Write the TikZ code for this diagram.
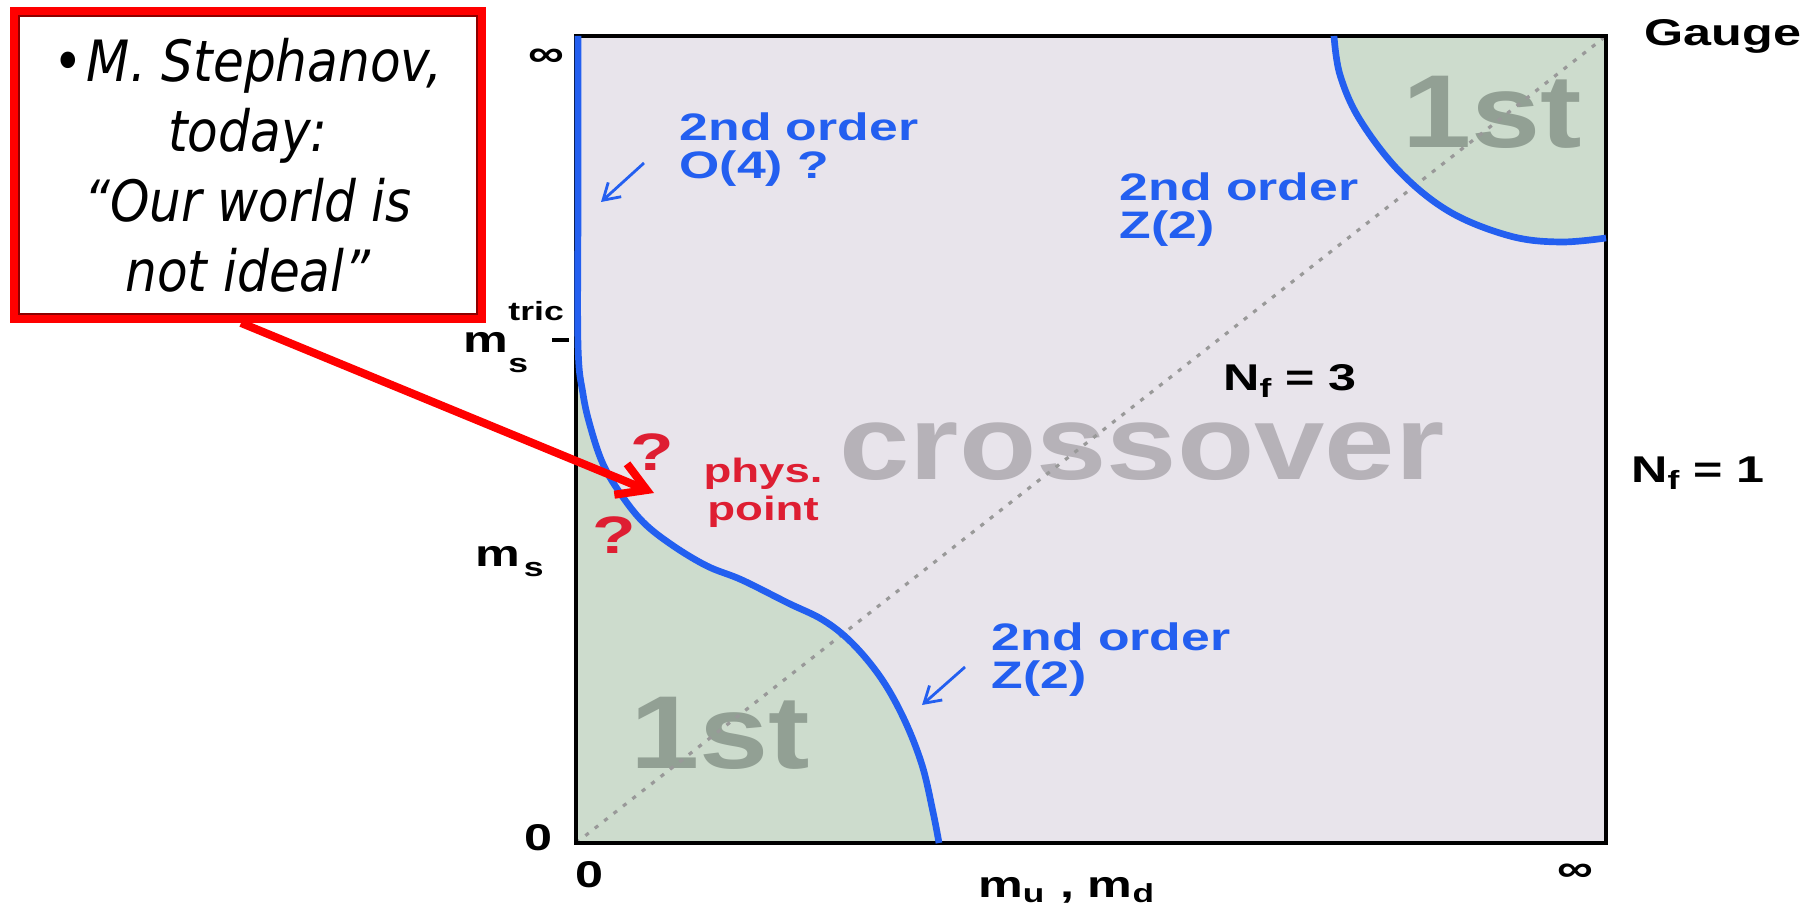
\documentclass[tikz,border=0pt]{standalone}
\usepackage{fontspec}
\setmainfont{Liberation Sans}
\newfontfamily\labelfont[FakeStretch=1.35]{Liberation Sans}
\newfontfamily\bigfont[FakeStretch=1.2]{Liberation Sans}
\newfontfamily\quotefont[FakeStretch=0.88]{DejaVu Sans}
\usetikzlibrary{arrows.meta,positioning,calc}
\definecolor{crossbg}{RGB}{232,228,235}
\definecolor{firstgreen}{RGB}{205,220,205}
\definecolor{firstgray}{RGB}{146,160,148}
\definecolor{crossgray}{RGB}{182,178,184}
\definecolor{orderblue}{RGB}{35,95,240}
\definecolor{physred}{RGB}{222,30,50}

\begin{document}
\begin{tikzpicture}[x=0.1mm, y=-0.1mm,
    quotebox/.style={draw=red, line width=2.8pt, fill=white, minimum width=46.6mm, minimum height=30.6mm, inner sep=0pt, align=center, font=\quotefont\itshape\fontsize{16.2}{19.9}\selectfont},
    orderlabel/.style={text=orderblue, align=left, inner sep=0pt, font=\labelfont\bfseries\fontsize{10.9}{10.8}\selectfont},
    axislabel/.style={inner sep=0pt, font=\labelfont\bfseries\fontsize{10.6}{12}\selectfont},
    phaselabel/.style={text=firstgray, inner sep=0pt, font=\bigfont\bfseries\fontsize{29.5}{29.5}\selectfont},
    physlabel/.style={text=physred, align=center, inner sep=0pt, font=\labelfont\bfseries\fontsize{9.6}{10.8}\selectfont},
    qmark/.style={text=physred, inner sep=0pt, font=\labelfont\bfseries\fontsize{15}{15}\selectfont},
    phaseline/.style={draw=orderblue, line width=1.9pt},
    diagline/.style={draw=black!40, line width=0.9pt, dash pattern=on 1.2pt off 2.2pt},
    hint/.style={draw=orderblue, line width=0.8pt, -{Straight Barb[length=4.5pt,width=5.5pt]}},
    pointer/.style={draw=red, line width=2.3pt, -{Straight Barb[length=8pt,width=9.5pt]}}
]
\useasboundingbox (0,0) rectangle (1818,912);

\coordinate (origin) at (576,843);
\coordinate (corner) at (1606,36);
\fill[crossbg] (origin) rectangle (corner);
\fill[firstgreen] (576,345) -- plot[smooth, tension=0.6] coordinates {(578,345) (583,394) (591,429) (603,464) (620,493) (643,522) (672,545) (707,566) (742,580) (788,603) (823,620) (852,643) (881,678) (904,719) (922,765) (933,812) (939,843)} -- (origin) -- cycle;
\fill[firstgreen] plot[smooth, tension=0.6] coordinates {(1334,36) (1340,75) (1360,120) (1400,172) (1450,212) (1510,236) (1560,242) (1606,238)} -- (corner) -- cycle;

\node[phaselabel] (lowfirst) at (720,733) {1st};
\node[phaselabel] (highfirst) at (1492,112) {1st};
\node[phaselabel, text=crossgray, font=\bigfont\bfseries\fontsize{30}{30}\selectfont] (cross) at (1142,452) {crossover};

\draw[diagline] (origin) -- (corner);
\draw[line width=1.4pt] (origin) rectangle (corner);
\draw[phaseline] plot[smooth, tension=0.6] coordinates {(578,36) (578,200) (578,345) (583,394) (591,429) (603,464) (620,493) (643,522) (672,545) (707,566) (742,580) (788,603) (823,620) (852,643) (881,678) (904,719) (922,765) (933,812) (939,843)};
\draw[phaseline] plot[smooth, tension=0.6] coordinates {(1334,36) (1340,75) (1360,120) (1400,172) (1450,212) (1510,236) (1560,242) (1606,238)};
\draw[line width=1.4pt] (552,340) -- (569,340);

\node[axislabel] (inftop) at (546,58) {∞};
\node[axislabel, anchor=base west] (mstric) at (463,352) {m\rlap{\raisebox{9pt}{\fontsize{7.5}{8}\selectfont tric}}\raisebox{-5.7pt}{\fontsize{7.5}{8}\selectfont s}};
\node[axislabel, anchor=base west] (ms) at (475,566) {m\kern1pt\raisebox{-3pt}{\fontsize{7.5}{8}\selectfont s}};
\node[axislabel] (zeroy) at (538,838) {0};
\node[axislabel] (zerox) at (589,875) {0};
\node[axislabel, anchor=base] (mud) at (1067,897) {m\textsubscript{u} , m\textsubscript{d}};
\node[axislabel] (infright) at (1575,873) {∞};
\node[axislabel, anchor=base] (gauge) at (1723,46) {Gauge};
\node[axislabel, anchor=base] (nfthree) at (1290,390) {N\raisebox{-2pt}{\fontsize{7.5}{8}\selectfont f} = 3};
\node[axislabel, anchor=base] (nfone) at (1698,482) {N\raisebox{-2pt}{\fontsize{7.5}{8}\selectfont f} = 1};

\node[orderlabel, anchor=west] (oflabel) at (679,150) {2nd order\\O(4) ?};
\node[orderlabel, anchor=west] (zhigh) at (1119,210) {2nd order\\Z(2)};
\node[orderlabel, anchor=west] (zlow) at (991,660) {2nd order\\Z(2)};
\coordinate (ofhint) at (601,202);
\coordinate (zlowhint) at (922,705);
\draw[hint] (oflabel.west) ++(-35,13) -- (ofhint);
\draw[hint] (zlow.west) ++(-26,7) -- (zlowhint);

\node[qmark] (qhigh) at (652,452) {?};
\node[qmark] (qlow) at (614,535) {?};
\node[physlabel] (phys) at (763,493) {phys.\\point};

\node[quotebox] (quote) at (248,165) {{\upshape\textbullet}\hspace{1pt}M. Stephanov,\\today:\\“Our world is\\not ideal”};
\draw[red!55!black, line width=0.5pt] ([shift={(9,9)}]quote.north west) rectangle ([shift={(-9,-9)}]quote.south east);
\coordinate (physpt) at (654,493);
\draw[pointer] ([xshift=-0.7mm]quote.south) -- (physpt);
\end{tikzpicture}
\end{document}
